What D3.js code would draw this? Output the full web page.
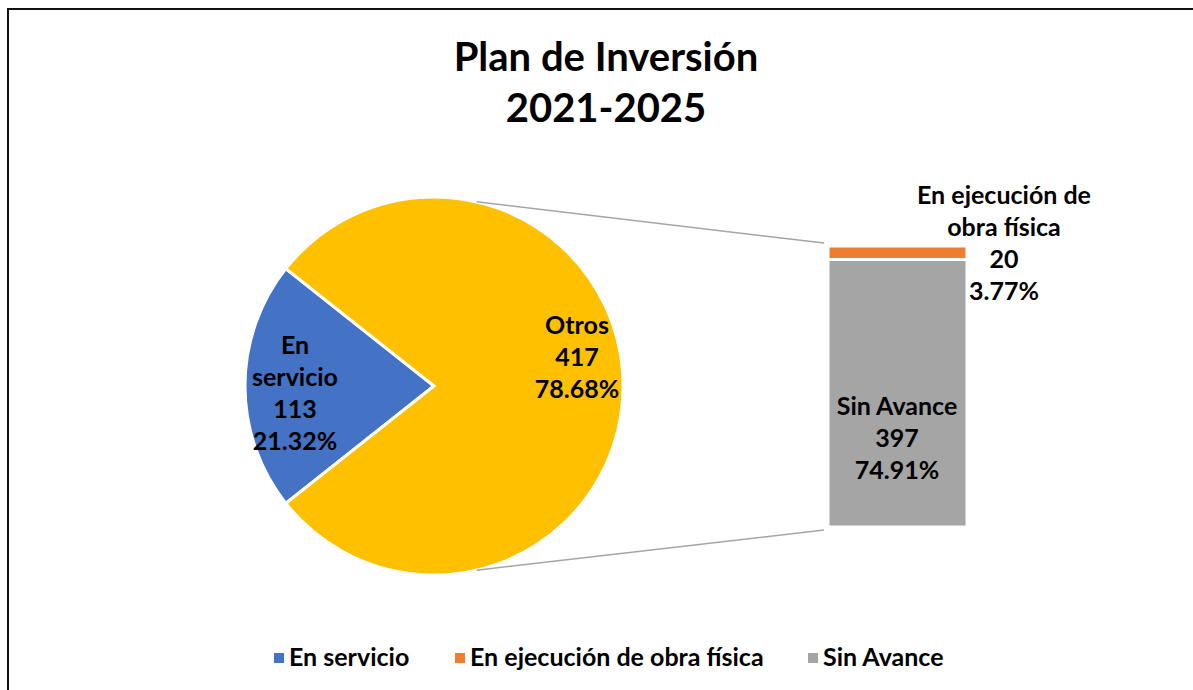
<!DOCTYPE html>
<html>
<head>
<meta charset="utf-8">
<script src="https://cdn.jsdelivr.net/npm/d3@7"></script>
<style>
  body { margin: 0; background: #fff; }
  text { font-family: Lato, "Open Sans", sans-serif; font-weight: bold; fill: #000; }
</style>
</head>
<body>
<script>
// datos del grafico
let tituloLineas = ["Plan de Inversión", "2021-2025"];
let pieCategorias = ["En servicio", "Otros"];
let pieValores = [113, 417];
let barraCategorias = ["En ejecución de obra física", "Sin Avance"];
let barraValores = [20, 397];
let leyenda = ["En servicio", "En ejecución de obra física", "Sin Avance"];
let colores = {
  "En servicio": "#4472C4",
  "Otros": "#FFC000",
  "En ejecución de obra física": "#ED7D31",
  "Sin Avance": "#A5A5A5",
};

function graficar() {
  let w = 1193;
  let h = 690;
  let total = d3.sum(pieValores);
  let fmt = d3.format(".2%");

  let svg = d3.select("body").append("svg").attr("width", w).attr("height", h);

  // marco
  svg.append("rect")
    .attr("x", 8).attr("y", 9)
    .attr("width", w).attr("height", h)
    .attr("fill", "none").attr("stroke", "#111").attr("stroke-width", 2);

  // titulo
  svg.selectAll("text.titulo")
    .data(tituloLineas)
    .enter()
    .append("text")
    .attr("class", "titulo")
    .attr("x", 606)
    .attr("y", (d, i) => 71 + i * 51)
    .attr("text-anchor", "middle")
    .style("font-size", "40px")
    .text(d => d);

  // pastel
  let cx = 434, cy = 386, r = 189;
  let anguloAzul = (pieValores[0] / total) * 2 * Math.PI;
  let inicio = 1.5 * Math.PI - anguloAzul / 2;
  let pie = d3.pie().sort(null).startAngle(inicio).endAngle(inicio + 2 * Math.PI);
  let arco = d3.arc().innerRadius(0).outerRadius(r);
  let arcos = pie(pieValores);

  let gPie = svg.append("g").attr("transform", `translate(${cx},${cy})`);
  gPie.selectAll("path")
    .data(arcos)
    .enter()
    .append("path")
    .attr("d", arco)
    .attr("fill", (d, i) => colores[pieCategorias[i]])
    .attr("stroke", "#fff")
    .attr("stroke-width", 3)
    .attr("stroke-linejoin", "miter");

  // barra apilada
  let x0 = 828, x1 = 967;
  let y = d3.scaleLinear().domain([0, d3.sum(barraValores)]).range([527, 246]);
  let pila = [];
  let acum = 0;
  barraValores.slice().reverse().forEach((v, i) => {
    let idx = barraValores.length - 1 - i;
    pila.push({ cat: barraCategorias[idx], v: v, a: acum, b: acum + v });
    acum += v;
  });

  svg.selectAll("rect.barra")
    .data(pila)
    .enter()
    .append("rect")
    .attr("class", "barra")
    .attr("x", x0)
    .attr("width", x1 - x0)
    .attr("y", d => y(d.b))
    .attr("height", d => y(d.a) - y(d.b))
    .attr("fill", d => colores[d.cat])
    .attr("stroke", "#fff")
    .attr("stroke-width", 3);

  // lineas de conexion
  let angArriba = 13 * Math.PI / 180;
  let angAbajo = 167 * Math.PI / 180;
  let conexiones = [
    { a: angArriba, y: y(d3.sum(barraValores)) - 3 },
    { a: angAbajo, y: y(0) + 3 },
  ];
  svg.selectAll("line.con")
    .data(conexiones)
    .enter()
    .append("line")
    .attr("class", "con")
    .attr("x1", d => cx + r * Math.sin(d.a))
    .attr("y1", d => cy - r * Math.cos(d.a))
    .attr("x2", x0 - 4)
    .attr("y2", d => d.y)
    .attr("stroke", "#A5A5A5")
    .attr("stroke-width", 1.5);

  // etiquetas
  let lh = 32;
  let etiquetas = [
    { lineas: ["En", "servicio", pieValores[0], fmt(pieValores[0] / total)], x: 295, y: 354 },
    { lineas: [pieCategorias[1], pieValores[1], fmt(pieValores[1] / total)], x: 577, y: 334 },
    { lineas: ["En ejecución de", "obra física", barraValores[0], fmt(barraValores[0] / total)], x: 1004, y: 204 },
    { lineas: [barraCategorias[1], barraValores[1], fmt(barraValores[1] / total)], x: 897, y: 415 },
  ];
  etiquetas.forEach(e => {
    let t = svg.append("text")
      .attr("text-anchor", "middle")
      .style("font-size", "25px");
    t.selectAll("tspan")
      .data(e.lineas)
      .enter()
      .append("tspan")
      .attr("x", e.x)
      .attr("y", (d, i) => e.y + i * lh)
      .text(d => d);
  });

  // leyenda
  let posLeyenda = [274, 455, 808];
  let gLey = svg.selectAll("g.ley")
    .data(leyenda)
    .enter()
    .append("g")
    .attr("class", "ley")
    .attr("transform", (d, i) => `translate(${posLeyenda[i]},658)`);
  gLey.append("rect")
    .attr("x", 0).attr("y", -5)
    .attr("width", 10).attr("height", 10)
    .attr("fill", d => colores[d]);
  gLey.append("text")
    .attr("x", 15)
    .attr("y", 8)
    .style("font-size", "25px")
    .text(d => d);
}

graficar();
</script>
</body>
</html>
